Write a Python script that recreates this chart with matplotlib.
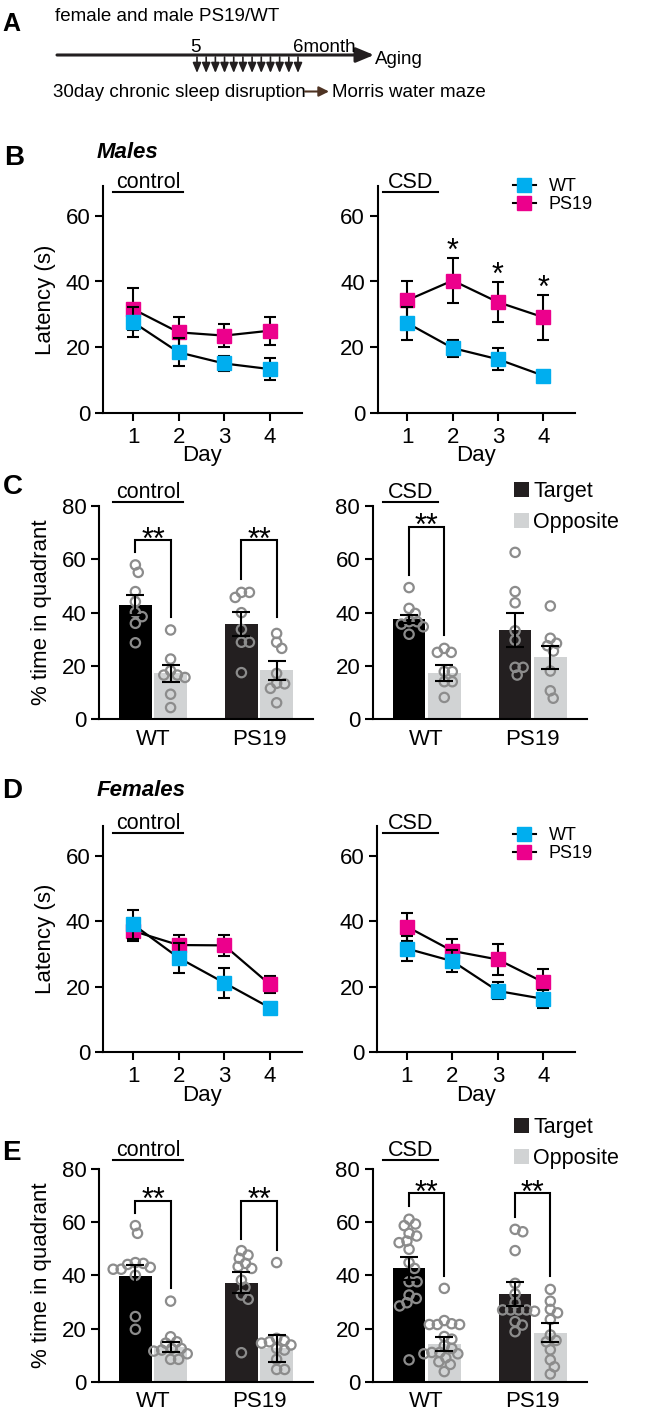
import numpy as np
import matplotlib
matplotlib.use('Agg')
import matplotlib.pyplot as plt
from matplotlib.lines import Line2D
from matplotlib.patches import Patch

plt.rcParams['font.family'] = ['Liberation Sans', 'DejaVu Sans']

# ---------------- data ----------------
days = [1, 2, 3, 4]

males_ctrl_wt = [27.6, 18.4, 15.0, 13.3]
males_ctrl_wt_err = [4.6, 4.3, 2.2, 3.3]
males_ctrl_ps19 = [31.6, 24.5, 23.5, 25.0]
males_ctrl_ps19_err = [6.5, 4.6, 3.4, 4.3]
males_csd_wt = [27.3, 19.7, 16.3, 11.3]
males_csd_wt_err = [5.0, 2.6, 3.4, 1.0]
males_csd_ps19 = [34.3, 40.3, 33.7, 29.1]
males_csd_ps19_err = [5.8, 6.9, 6.2, 6.9]
males_csd_star_days = [2, 3, 4]

fem_ctrl_wt = [39.0, 28.8, 21.2, 13.6]
fem_ctrl_wt_err = [4.5, 4.5, 4.5, 1.5]
fem_ctrl_ps19 = [37.0, 32.7, 32.6, 20.7]
fem_ctrl_ps19_err = [3.0, 3.0, 3.1, 2.5]
fem_csd_wt = [31.6, 27.8, 18.7, 16.3]
fem_csd_wt_err = [3.8, 3.3, 2.6, 2.7]
fem_csd_ps19 = [38.3, 30.9, 28.3, 21.4]
fem_csd_ps19_err = [4.3, 3.7, 4.6, 3.9]

genotypes = ['WT', 'PS19']

# panel C (males probe)
c_ctrl_target = [43.0, 35.6]
c_ctrl_target_err = [3.8, 4.5]
c_ctrl_opp = [17.2, 18.4]
c_ctrl_opp_err = [3.1, 3.5]
c_ctrl_wt_t = [57.9, 55.1, 47.9, 44.1, 40.1, 38.5, 36.0, 28.7]
c_ctrl_wt_o = [33.5, 22.6, 18.2, 16.6, 16.6, 15.7, 9.4, 4.4]
c_ctrl_ps_t = [47.6, 47.6, 45.7, 40.0, 33.7, 28.9, 28.9, 17.5]
c_ctrl_ps_o = [32.2, 28.9, 26.6, 17.2, 13.5, 13.3, 11.6, 6.2]
c_ctrl_brackets = [(67.2, 62.9, 38.5), (67.2, 52.6, 38.5)]

c_csd_target = [37.5, 33.4]
c_csd_target_err = [1.5, 6.3]
c_csd_opp = [17.5, 23.2]
c_csd_opp_err = [3.0, 4.4]
c_csd_wt_t = [49.4, 41.6, 39.7, 36.6, 36.6, 35.7, 34.7, 31.9]
c_csd_wt_o = [26.6, 25.1, 25.1, 17.9, 17.9, 14.1, 14.1, 8.2]
c_csd_ps_t = [62.6, 47.9, 43.7, 33.2, 29.7, 19.5, 19.5, 16.6]
c_csd_ps_o = [42.5, 30.4, 28.5, 27.6, 25.6, 18.1, 10.7, 7.9]
c_csd_brackets = [(72.2, 54.1, 31.6), None]

# panel E (females probe)
e_ctrl_target = [39.7, 37.2]
e_ctrl_target_err = [4.2, 3.9]
e_ctrl_opp = [13.0, 12.5]
e_ctrl_opp_err = [1.8, 5.0]
e_ctrl_wt_t = [58.7, 55.8, 44.8, 44.1, 44.5, 43.0, 42.3, 42.3, 40.0, 24.5, 19.7]
e_ctrl_wt_o = [30.3, 16.9, 15.0, 14.5, 12.5, 12.5, 11.9, 11.5, 10.5, 8.4, 8.4]
e_ctrl_ps_t = [49.3, 47.6, 46.4, 44.5, 43.3, 42.6, 38.2, 35.5, 32.6, 31.0, 10.9]
e_ctrl_ps_o = [44.8, 16.3, 15.5, 15.0, 14.5, 13.8, 12.5, 11.9, 8.4, 4.6, 4.6]
e_ctrl_brackets = [(68.0, 63.5, 35.1), (68.0, 53.5, 49.5)]

e_csd_target = [42.6, 33.0]
e_csd_target_err = [4.2, 4.6]
e_csd_opp = [14.2, 18.4]
e_csd_opp_err = [2.5, 3.5]
e_csd_wt_t = [61.1, 59.3, 58.7, 55.8, 54.8, 52.9, 52.3, 49.8, 44.8, 42.6, 37.6, 37.6,
              32.6, 31.3, 29.7, 28.5, 8.2]
e_csd_wt_o = [35.1, 23.0, 21.5, 21.5, 21.5, 21.8, 17.0, 16.0, 13.5, 12.5, 11.0, 11.0,
              10.5, 10.5, 9.0, 7.5, 6.5, 3.8]
e_csd_ps_t = [57.3, 56.4, 49.3, 37.0, 33.0, 29.7, 27.0, 27.0, 27.0, 27.0, 26.5, 22.6,
              21.3, 18.8]
e_csd_ps_o = [34.7, 30.3, 27.2, 25.9, 23.4, 17.6, 15.5, 15.0, 12.0, 8.2, 5.6, 2.9]
e_csd_brackets = [(70.8, 66.0, 39.7), (70.8, 62.0, 39.7)]

# ---------------- style ----------------
WT_C = '#00AEEF'
PS_C = '#EC008C'
TGT_C = ['#000000', '#231F20']
OPP_C = '#D1D3D4'
DOT_C = '#8C8C8C'

W, H = 666, 1417
fig = plt.figure(figsize=(W / 100, H / 100), dpi=100)


def rect(l, t, r, b):
    return [l / W, 1 - b / H, (r - l) / W, (b - t) / H]


# overlay axes in pixel coordinates for annotations (drawn on top)
ax0 = fig.add_axes([0, 0, 1, 1])
ax0.set_xlim(0, W)
ax0.set_ylim(H, 0)
ax0.axis('off')
ax0.set_zorder(10)


def style(ax):
    for s in ['top', 'right']:
        ax.spines[s].set_visible(False)
    for s in ['left', 'bottom']:
        ax.spines[s].set_linewidth(1.5)
    ax.tick_params(width=1.5, length=6, labelsize=16, direction='out', pad=3)


LINE_YMAX = 69


def line_panel(box, wt, wt_e, ps, ps_e, ylabel=True, stars=None, legend=None):
    ax = fig.add_axes(rect(*box))
    ax.patch.set_alpha(0)
    style(ax)
    ax.errorbar(days, ps, yerr=ps_e, fmt='none', ecolor='k', elinewidth=1.5,
                capsize=4.2, capthick=1.5, zorder=2)
    ax.plot(days, ps, color='k', lw=1.6, zorder=2)
    ax.plot(days, ps, ls='none', marker='s', ms=9.5, mfc=PS_C, mec=PS_C, zorder=3)
    ax.errorbar(days, wt, yerr=wt_e, fmt='none', ecolor='k', elinewidth=1.5,
                capsize=4.2, capthick=1.5, zorder=4)
    ax.plot(days, wt, color='k', lw=1.6, zorder=4)
    ax.plot(days, wt, ls='none', marker='s', ms=9.5, mfc=WT_C, mec=WT_C, zorder=5)
    ax.set_xlim(0.34, 4.70)
    ax.set_ylim(0, LINE_YMAX)
    ax.set_xticks(days)
    ax.set_yticks([0, 20, 40, 60])
    ax.tick_params(axis='x', pad=4)
    hpx = box[3] - box[1]
    wpx = box[2] - box[0]
    ax.set_xlabel('Day', fontsize=16, va='center')
    ax.xaxis.set_label_coords(0.5, -43 / hpx)
    if ylabel:
        ax.set_ylabel('Latency (s)', fontsize=16, va='center')
        ax.yaxis.set_label_coords((45 - box[0]) / wpx, 0.5)
    if stars:
        for d in stars:
            i = days.index(d)
            ax.annotate('*', xy=(d, ps[i] + ps_e[i]), xytext=(0, -1.3),
                        textcoords='offset points', ha='center', va='baseline',
                        fontsize=22, annotation_clip=False)
    if legend is not None:
        handles = [Line2D([], [], color='k', lw=1.5, marker='s', ms=9.5, mfc=WT_C, mec=WT_C),
                   Line2D([], [], color='k', lw=1.5, marker='s', ms=9.5, mfc=PS_C, mec=PS_C)]
        ax.legend(handles, genotypes, loc='upper left', frameon=False, fontsize=13,
                  bbox_to_anchor=(512.7 / W, 1 - legend / H), bbox_transform=fig.transFigure,
                  borderpad=0, borderaxespad=0, handlelength=1.3, handletextpad=0.7,
                  labelspacing=0.05)
    return ax


def swarm(vals, d_px, ppu_y, ppu_x):
    vals = np.asarray(vals, float)
    order = np.argsort(-vals)
    placed = []
    xs = np.zeros(len(vals))
    for i in order:
        y = vals[i] * ppu_y
        cands = [0.0]
        for px, py in placed:
            dy = abs(py - y)
            if dy < d_px:
                dx = np.sqrt(d_px ** 2 - dy ** 2)
                cands += [px + dx, px - dx]
        valid = [c for c in cands
                 if all((c - px) ** 2 + (y - py) ** 2 >= d_px ** 2 - 1e-6 for px, py in placed)]
        best = min(valid, key=abs)
        placed.append((best, y))
        xs[i] = best
    return xs / ppu_x


BAR_OFF = 0.166
BAR_W = 0.308
BAR_XLIM = (-0.509, 1.509)


def bar_panel(box, t_mean, t_err, o_mean, o_err, dots, brackets, ylabel=True, legend=None):
    ax = fig.add_axes(rect(*box))
    ax.patch.set_alpha(0)
    style(ax)
    x = np.arange(len(genotypes))
    ax.bar(x - BAR_OFF, t_mean, width=BAR_W, color=TGT_C, zorder=1)
    ax.bar(x + BAR_OFF, o_mean, width=BAR_W, color=OPP_C, zorder=1)
    wpx = box[2] - box[0]
    hpx = box[3] - box[1]
    ppu_x = wpx / (BAR_XLIM[1] - BAR_XLIM[0])
    ppu_y = hpx / 80.0
    centers = [x[0] - BAR_OFF, x[0] + BAR_OFF, x[1] - BAR_OFF, x[1] + BAR_OFF]
    for c, v in zip(centers, dots):
        off = swarm(v, 8.0, ppu_y, ppu_x)
        ax.scatter(c + off, v, s=45, facecolors='none', edgecolors=DOT_C,
                   linewidths=1.6, zorder=3)
    ax.errorbar(x - BAR_OFF, t_mean, yerr=t_err, fmt='none', ecolor='k', elinewidth=1.5,
                capsize=6.5, capthick=1.5, zorder=4)
    ax.errorbar(x + BAR_OFF, o_mean, yerr=o_err, fmt='none', ecolor='k', elinewidth=1.5,
                capsize=6.5, capthick=1.5, zorder=4)
    for g, br in enumerate(brackets):
        if br is None:
            continue
        top, lb, rb = br
        xl, xr = g - BAR_OFF, g + BAR_OFF
        ax.plot([xl, xl, xr, xr], [lb, top, top, rb], color='k', lw=1.5,
                solid_joinstyle='miter', zorder=5, clip_on=False)
        ax.annotate('**', xy=(g, top), xytext=(0, -6), textcoords='offset points',
                    ha='center', va='baseline', fontsize=22, annotation_clip=False)
    ax.set_xlim(*BAR_XLIM)
    ax.set_ylim(0, 80)
    ax.set_yticks([0, 20, 40, 60, 80])
    ax.set_xticks(x, genotypes)
    ax.tick_params(axis='x', length=0, pad=7, labelsize=16)
    if ylabel:
        ax.set_ylabel('% time in quadrant', fontsize=16, va='center')
        ax.yaxis.set_label_coords((42 - box[0]) / wpx, 0.5)
    if legend is not None:
        handles = [Patch(facecolor=TGT_C[1]), Patch(facecolor=OPP_C)]
        ax.legend(handles, ['Target', 'Opposite'], loc='upper left', frameon=False,
                  fontsize=15.5, bbox_to_anchor=(514.3 / W, 1 - legend / H),
                  bbox_transform=fig.transFigure, borderpad=0, borderaxespad=0,
                  handlelength=0.68, handleheight=0.7, handletextpad=0.2,
                  labelspacing=0.45)
    return ax


# ---------------- panel A ----------------
ax0.text(11.5, 30.7, 'A', fontsize=18, fontweight='bold', ha='center', va='baseline')
ax0.text(55, 20.7, 'female and male PS19/WT', fontsize=13.5, ha='left', va='baseline')
ax0.annotate('', xy=(374, 55), xytext=(57, 55),
             arrowprops=dict(arrowstyle='-|>,head_length=0.6,head_width=0.25', lw=2.2,
                             color='#231F20', mutation_scale=18, shrinkA=0, shrinkB=0))
ax0.text(195, 52.5, '5', fontsize=13.5, ha='center', va='baseline')
ax0.text(293, 52.5, '6month', fontsize=13.5, ha='left', va='baseline')
ax0.text(375, 64, 'Aging', fontsize=13.5, ha='left', va='baseline')
for xa in np.linspace(197, 298, 12):
    ax0.annotate('', xy=(xa, 73), xytext=(xa, 57),
                 arrowprops=dict(arrowstyle='-|>,head_length=0.6,head_width=0.25', lw=1.2,
                                 color='#231F20', mutation_scale=10, shrinkA=0, shrinkB=0))
ax0.text(53, 96.7, '30day chronic sleep disruption', fontsize=13.5, ha='left', va='baseline')
ax0.annotate('', xy=(329, 91.5), xytext=(305, 91.5),
             arrowprops=dict(arrowstyle='-|>,head_length=0.6,head_width=0.3', lw=1.5,
                             color='#4E3323', mutation_scale=10, shrinkA=0, shrinkB=0))
ax0.text(332, 96.7, 'Morris water maze', fontsize=13.5, ha='left', va='baseline')

# ---------------- panel letters & headings ----------------
for letter, xc, yb in [('B', 14, 165), ('C', 12.5, 494), ('D', 12, 798.3), ('E', 11, 1160)]:
    ax0.text(xc, yb, letter, fontsize=20, fontweight='bold', ha='center', va='baseline')
ax0.text(97, 158.3, 'Males', fontsize=16, fontweight='bold', style='italic', va='baseline')
ax0.text(97, 796, 'Females', fontsize=16, fontweight='bold', style='italic', va='baseline')

for uy in [191.7, 501.7, 832.7, 1160]:
    ax0.text(148, uy - 3.5, 'control', fontsize=15.5, ha='center', va='baseline')
    ax0.plot([113, 183], [uy, uy], color='k', lw=1.5)
    ax0.text(410.5, uy - 3.5, 'CSD', fontsize=15.5, ha='center', va='baseline')
    ax0.plot([382.7, 438.3], [uy, uy], color='k', lw=1.5)

# ---------------- panels B and D ----------------
line_panel((103, 412.7 - LINE_YMAX * 3.28, 301.7, 412.7), males_ctrl_wt, males_ctrl_wt_err,
           males_ctrl_ps19, males_ctrl_ps19_err)
line_panel((377.5, 412.7 - LINE_YMAX * 3.28, 575, 412.7), males_csd_wt, males_csd_wt_err,
           males_csd_ps19, males_csd_ps19_err, ylabel=False, stars=males_csd_star_days,
           legend=178)
line_panel((103, 1052.3 - LINE_YMAX * 3.28, 301.7, 1052.3), fem_ctrl_wt, fem_ctrl_wt_err,
           fem_ctrl_ps19, fem_ctrl_ps19_err)
line_panel((377, 1052.3 - LINE_YMAX * 3.28, 575, 1052.3), fem_csd_wt, fem_csd_wt_err,
           fem_csd_ps19, fem_csd_ps19_err, ylabel=False, legend=827.5)

# ---------------- panels C and E ----------------
bar_panel((99, 506, 313, 719.3), c_ctrl_target, c_ctrl_target_err, c_ctrl_opp, c_ctrl_opp_err,
          [c_ctrl_wt_t, c_ctrl_wt_o, c_ctrl_ps_t, c_ctrl_ps_o], c_ctrl_brackets)
bar_panel((372.7, 506, 586.7, 719.3), c_csd_target, c_csd_target_err, c_csd_opp, c_csd_opp_err,
          [c_csd_wt_t, c_csd_wt_o, c_csd_ps_t, c_csd_ps_o], c_csd_brackets, ylabel=False,
          legend=481.5)
bar_panel((99, 1169, 313, 1381.7), e_ctrl_target, e_ctrl_target_err, e_ctrl_opp, e_ctrl_opp_err,
          [e_ctrl_wt_t, e_ctrl_wt_o, e_ctrl_ps_t, e_ctrl_ps_o], e_ctrl_brackets)
bar_panel((372.7, 1169, 586.7, 1381.7), e_csd_target, e_csd_target_err, e_csd_opp, e_csd_opp_err,
          [e_csd_wt_t, e_csd_wt_o, e_csd_ps_t, e_csd_ps_o], e_csd_brackets, ylabel=False,
          legend=1117)

fig.savefig('out.png', dpi=100)
